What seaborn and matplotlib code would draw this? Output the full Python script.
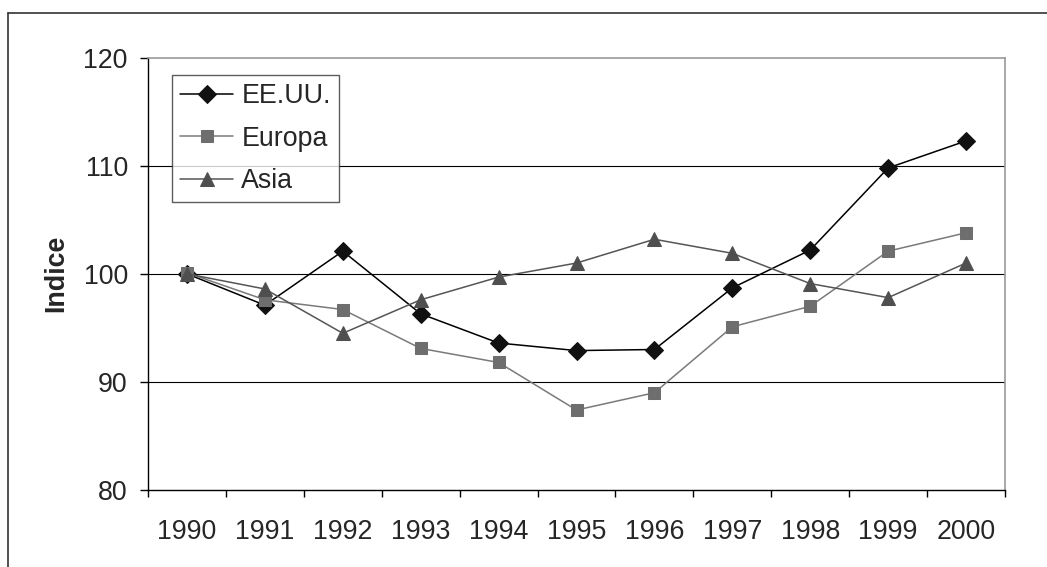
import numpy as np
import pandas as pd
import matplotlib
matplotlib.use("Agg")
import matplotlib.pyplot as plt
import seaborn as sns
from matplotlib.lines import Line2D

# datos
years = ["1990", "1991", "1992", "1993", "1994", "1995",
         "1996", "1997", "1998", "1999", "2000"]
eeuu = [100.0, 97.1, 102.1, 96.3, 93.6, 92.9, 93.0, 98.7, 102.2, 109.8, 112.3]
europa = [100.1, 97.6, 96.7, 93.1, 91.8, 87.4, 89.0, 95.1, 97.0, 102.1, 103.8]
asia = [100.0, 98.6, 94.5, 97.6, 99.7, 101.0, 103.2, 101.9, 99.1, 97.8, 101.0]
series_names = ["EE.UU.", "Europa", "Asia"]
y_ticks = [80, 90, 100, 110, 120]

df = pd.DataFrame({
    "Año": years * 3,
    "Indice": eeuu + europa + asia,
    "Region": np.repeat(series_names, len(years)),
})

sns.set_theme(style="white")
plt.rcParams["font.family"] = ["Liberation Sans", "DejaVu Sans"]

W, H = 1047, 567
FS = 19.3
fig = plt.figure(figsize=(W / 100, H / 100), dpi=100)
ax = fig.add_axes([148 / W, 1 - 490 / H, (1005 - 148) / W, (490 - 57.7) / H])

estilos = {
    "EE.UU.": dict(color="#000000", marker="D", markersize=9, mfc="#111111", mec="#111111"),
    "Europa": dict(color="#7a7a7a", marker="s", markersize=9, mfc="#6e6e6e", mec="#6e6e6e"),
    "Asia": dict(color="#555555", marker="^", markersize=10.5, mfc="#4f4f4f", mec="#4f4f4f"),
}

for name in series_names:
    sub = df[df["Region"] == name]
    sns.lineplot(data=sub, x="Año", y="Indice", ax=ax, label=name,
                 linewidth=1.1, sort=False, **estilos[name])

# ejes
ax.set_xlim(-0.5, len(years) - 0.5)
ax.set_ylim(80, 120)
ax.set_yticks(y_ticks)
ax.set_yticklabels([str(t) for t in y_ticks], fontsize=FS)
ax.set_xticks(range(len(years)))
ax.set_xticklabels(years, fontsize=FS)
ax.set_xticks(np.arange(-0.5, len(years)), minor=True)
ax.tick_params(axis="x", which="major", length=0, pad=21)
ax.tick_params(axis="x", which="minor", length=5, width=1, color="black", direction="out")
ax.tick_params(axis="y", length=5.5, width=1, color="black", direction="out", pad=9, left=True)
ax.tick_params(axis="x", bottom=True, which="both")

for yv in [90, 100, 110]:
    ax.axhline(yv, color="black", linewidth=0.8, zorder=0)

ax.spines["left"].set_color("black")
ax.spines["bottom"].set_color("black")
ax.spines["left"].set_linewidth(1.0)
ax.spines["bottom"].set_linewidth(1.0)
ax.spines["top"].set_color("#999999")
ax.spines["right"].set_color("#999999")
ax.spines["top"].set_linewidth(1.2)
ax.spines["right"].set_linewidth(1.2)

ax.set_xlabel("")
ax.set_ylabel("Indice", fontsize=FS, fontweight="bold", labelpad=10)

leg = ax.legend(loc="upper left", bbox_to_anchor=(171.7 / W, 1 - 75 / H),
                bbox_transform=fig.transFigure, borderaxespad=0, fontsize=FS,
                frameon=True, fancybox=False, edgecolor="#333333",
                handlelength=2.0, handletextpad=0.3, labelspacing=0.62,
                borderpad=0.3)
leg.get_frame().set_linewidth(1.0)

# marco exterior del grafico
fig.add_artist(Line2D([8 / W, 1.0], [1 - 13 / H, 1 - 13 / H], transform=fig.transFigure,
                      color="#333333", linewidth=1.2))
fig.add_artist(Line2D([8 / W, 8 / W], [0.0, 1 - 13 / H], transform=fig.transFigure,
                      color="#333333", linewidth=1.2))

fig.savefig("out.png", dpi=100)
